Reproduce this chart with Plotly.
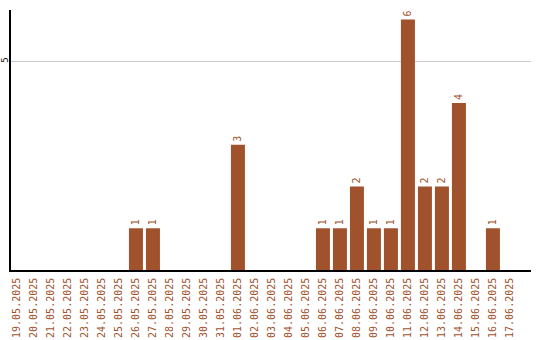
import plotly.graph_objects as go

dates = ["19.05.2025","20.05.2025","21.05.2025","22.05.2025","23.05.2025","24.05.2025","25.05.2025",
         "26.05.2025","27.05.2025","28.05.2025","29.05.2025","30.05.2025","31.05.2025","01.06.2025",
         "02.06.2025","03.06.2025","04.06.2025","05.06.2025","06.06.2025","07.06.2025","08.06.2025",
         "09.06.2025","10.06.2025","11.06.2025","12.06.2025","13.06.2025","14.06.2025","15.06.2025",
         "16.06.2025","17.06.2025"]
counts = [0,0,0,0,0,0,0,1,1,0,0,0,0,3,0,0,0,0,1,1,2,1,1,6,2,2,4,0,1,0]
labels = [str(v) if v else "" for v in counts]
y_ticks = [5]

color = "#A0522D"
fig = go.Figure(go.Bar(
    x=dates, y=counts, text=labels, textposition="outside", textangle=-90,
    textfont=dict(color=color, size=10, family="DejaVu Sans Mono"),
    marker=dict(color=color, line=dict(width=0)), cliponaxis=False,
))
fig.update_layout(
    width=540, height=340, margin=dict(l=11, r=9, t=10, b=70),
    plot_bgcolor="white", paper_bgcolor="white", bargap=0.176, showlegend=False,
    xaxis=dict(type="category", range=[-0.35, 30.24], tickangle=-90, automargin=False,
               tickfont=dict(color=color, size=10, family="DejaVu Sans Mono"),
               showline=True, linecolor="black", linewidth=1.5, showgrid=False, ticks="",
               ticklabelstandoff=2),
    yaxis=dict(range=[0, 6.23], tickvals=y_ticks, tickangle=-90, automargin=False,
               tickfont=dict(color="black", size=9, family="DejaVu Sans Mono"),
               showline=True, linecolor="black", linewidth=1.5, showgrid=True, gridcolor="#cccccc",
               zeroline=False, ticks="", ticklabelstandoff=-2),
)
fig.write_html("out.html")
